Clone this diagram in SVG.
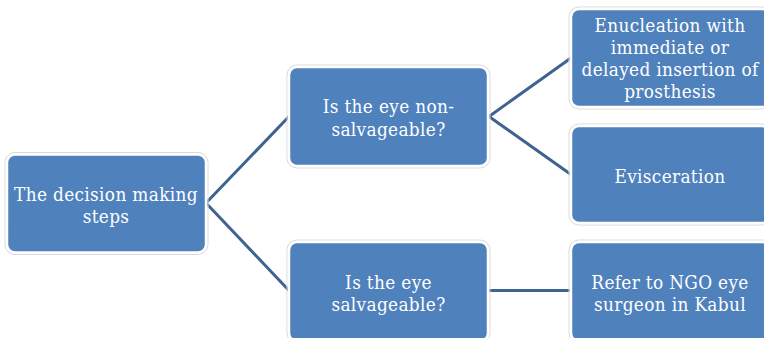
<svg xmlns="http://www.w3.org/2000/svg" width="764" height="338" viewBox="0 0 764 338">
<style>
.box{fill:#4F81BD;stroke:#ffffff;stroke-width:2.5}
.halo{fill:none;stroke:#d9d9d9;stroke-width:1}
.lbl{font-family:"DejaVu Serif Condensed","DejaVu Serif","Liberation Serif",serif;font-stretch:condensed;font-size:18.8px;letter-spacing:0.35px;fill:#ffffff;text-anchor:middle}
.conn{fill:none;stroke:#3F6390;stroke-width:3}
</style>
<rect width="764" height="338" fill="#ffffff"/>
<g id="connectors">
<path class="conn" d="M206,203 L289,116.5 M206,203 L289,290.5"/>
<path class="conn" d="M489,116.5 L571,58 M489,116.5 L571,174.5"/>
<path class="conn" d="M489,290.5 L571,290.5"/>
</g>
<g id="n-root">
<rect class="halo" x="5" y="152.5" width="203" height="102" rx="10"/>
<rect class="box" x="7" y="154.5" width="199" height="98" rx="8"/>
<text class="lbl" x="106" y="201">The decision making</text>
<text class="lbl" x="106" y="223">steps</text>
</g>
<g id="n-nonsalv">
<rect class="halo" x="287" y="65" width="203" height="103" rx="10"/>
<rect class="box" x="289" y="67" width="199" height="99" rx="8"/>
<text class="lbl" x="388.5" y="112.5">Is the eye non-</text>
<text class="lbl" x="388.5" y="135.5">salvageable?</text>
</g>
<g id="n-salv">
<rect class="halo" x="287" y="240" width="203" height="103" rx="10"/>
<rect class="box" x="289" y="242" width="199" height="99" rx="8"/>
<text class="lbl" x="388.5" y="288.5">Is the eye</text>
<text class="lbl" x="388.5" y="311">salvageable?</text>
</g>
<g id="n-enucleation">
<rect class="halo" x="569" y="7" width="203" height="102" rx="10"/>
<rect class="box" x="571" y="9" width="199" height="98" rx="8"/>
<text class="lbl" x="670" y="31.5">Enucleation with</text>
<text class="lbl" x="670" y="53.5">immediate or</text>
<text class="lbl" x="670" y="75.5">delayed insertion of</text>
<text class="lbl" x="670" y="97.5">prosthesis</text>
</g>
<g id="n-evisceration">
<rect class="halo" x="569" y="124" width="203" height="101" rx="10"/>
<rect class="box" x="571" y="126" width="199" height="97" rx="8"/>
<text class="lbl" x="670" y="182.5">Evisceration</text>
</g>
<g id="n-refer">
<rect class="halo" x="569" y="240" width="203" height="103" rx="10"/>
<rect class="box" x="571" y="242" width="199" height="99" rx="8"/>
<text class="lbl" x="670" y="288.5">Refer to NGO eye</text>
<text class="lbl" x="670" y="311">surgeon in Kabul</text>
</g>
</svg>
